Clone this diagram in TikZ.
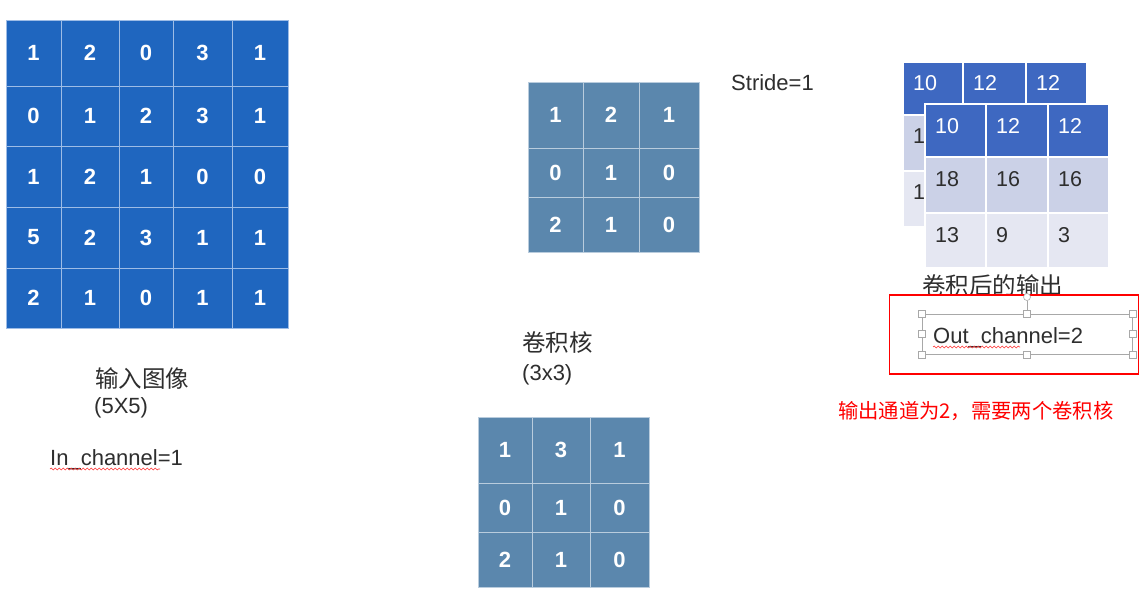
\documentclass[tikz,border=0pt]{standalone}
\usepackage{fontspec}
\setmainfont{Liberation Sans}
\newfontfamily\cjk{Noto Sans CJK SC}
\usetikzlibrary{decorations.pathmorphing}
\definecolor{inblue}{HTML}{1F66BF}
\definecolor{inline}{HTML}{9DBCE6}
\definecolor{kblue}{HTML}{5B87AD}
\definecolor{kline}{HTML}{B9CCDD}
\definecolor{hblue}{HTML}{3E68C1}
\definecolor{rowa}{HTML}{CBD1E7}
\definecolor{rowb}{HTML}{E5E7F2}
\definecolor{txtgray}{HTML}{2E2E2E}
\definecolor{hgray}{HTML}{A8A8A8}
\begin{document}
\begin{tikzpicture}[x=1pt,y=-1pt,
  incell/.style={fill=inblue, draw=inline, line width=0.9pt, inner sep=0pt, text=white, font=\fontsize{22}{22}\selectfont\bfseries},
  kcell/.style={fill=kblue, draw=kline, line width=0.9pt, inner sep=0pt, text=white, font=\fontsize{22}{22}\selectfont\bfseries},
  ocell/.style={draw=white, line width=1.5pt, inner sep=0pt},
  otext/.style={anchor=west, inner sep=0pt, font=\fontsize{21.5}{21.5}\selectfont},
  lbl/.style={inner sep=0pt, anchor=base west, font=\fontsize{22}{22}\selectfont, text=txtgray},
  cjklbl/.style={inner sep=0pt, anchor=base west, font=\cjk\fontsize{23.5}{23.5}\selectfont, text=txtgray},
  wavy/.style={draw=red!80, line width=0.6pt, decorate, decoration={snake, amplitude=0.9pt, segment length=4pt}},
  handle/.style={draw=hgray, fill=white, line width=0.6pt, minimum size=7pt, inner sep=0pt, rectangle},
]
\fill[white] (0,0) rectangle (1147,607);
\useasboundingbox (0,0) rectangle (1147,607);

% ---------- input 5x5 ----------
\foreach \ya/\yb/\i/\a/\b/\c/\d/\e in {20/86/1/1/2/0/3/1, 86/146/2/0/1/2/3/1, 146/207/3/1/2/1/0/0, 207/268/4/5/2/3/1/1, 268/328/5/2/1/0/1/1}{
  \foreach \xa/\xb/\j/\v in {6/61/1/\a, 61/119/2/\b, 119/173/3/\c, 173/232/4/\d, 232/288/5/\e}{
    \node[incell, minimum width={(\xb-\xa)*1pt}, minimum height={(\yb-\ya)*1pt}] (in-\i-\j) at ({(\xa+\xb)/2},{(\ya+\yb)/2}) {\v};
  }
}

% ---------- kernel 1 ----------
\foreach \ya/\yb/\i/\a/\b/\c in {82/148/1/1/2/1, 148/197/2/0/1/0, 197/252/3/2/1/0}{
  \foreach \xa/\xb/\j/\v in {528/583/1/\a, 583/639/2/\b, 639/699/3/\c}{
    \node[kcell, minimum width={(\xb-\xa)*1pt}, minimum height={(\yb-\ya)*1pt}] (ka-\i-\j) at ({(\xa+\xb)/2},{(\ya+\yb)/2}) {\v};
  }
}

% ---------- kernel 2 ----------
\foreach \ya/\yb/\i/\a/\b/\c in {417/483/1/1/3/1, 483/532/2/0/1/0, 532/587/3/2/1/0}{
  \foreach \xa/\xb/\j/\v in {478/532/1/\a, 532/590/2/\b, 590/649/3/\c}{
    \node[kcell, minimum width={(\xb-\xa)*1pt}, minimum height={(\yb-\ya)*1pt}] (kb-\i-\j) at ({(\xa+\xb)/2},{(\ya+\yb)/2}) {\v};
  }
}

% ---------- output, back ----------
\foreach \ya/\yb/\i/\fc/\tc/\a/\b/\c in {62/115/1/hblue/white/10/12/12, 115/171/2/rowa/txtgray/18/16/16, 171/227/3/rowb/txtgray/13/9/3}{
  \foreach \xa/\xb/\j/\v in {903/963/1/\a, 963/1026/2/\b, 1026/1087/3/\c}{
    \node[ocell, fill=\fc, minimum width={(\xb-\xa)*1pt}, minimum height={(\yb-\ya)*1pt}] (ob-\i-\j) at ({(\xa+\xb)/2},{(\ya+\yb)/2}) {};
    \node[otext, text=\tc] (obt-\i-\j) at ({\xa+10},{\ya+21}) {\v};
  }
}

% ---------- output, front ----------
\foreach \ya/\yb/\i/\fc/\tc/\a/\b/\c in {104/157/1/hblue/white/10/12/12, 157/213/2/rowa/txtgray/18/16/16, 213/268/3/rowb/txtgray/13/9/3}{
  \foreach \xa/\xb/\j/\v in {925/986/1/\a, 986/1048/2/\b, 1048/1109/3/\c}{
    \node[ocell, fill=\fc, minimum width={(\xb-\xa)*1pt}, minimum height={(\yb-\ya)*1pt}] (of-\i-\j) at ({(\xa+\xb)/2},{(\ya+\yb)/2}) {};
    \node[otext, text=\tc] (oft-\i-\j) at ({\xa+10},{\ya+22}) {\v};
  }
}

% ---------- labels ----------
\node[lbl] (stride) at (731,91) {Stride=1};
\node[cjklbl] (inlbl) at (95,387) {输入图像};
\node[lbl] (insize) at (94,413) {(5X5)};
\node[lbl] (inch) at (50,465) {In\_channel=1};
\coordinate (u1a) at (50,469);
\coordinate (u1b) at (160,469);
\draw[wavy] (u1a) -- (u1b);

\node[cjklbl] (klbl) at (522,351) {卷积核};
\node[lbl] (ksize) at (522,380) {(3x3)};

\node[cjklbl] (outlbl) at (922,294) {卷积后的输出};

% red box
\node[draw=red, line width=1.6pt, minimum width=249pt, minimum height=79pt, inner sep=0pt] (redbox) at (1014,334.5) {};

% selection frame with handles
\node[draw=hgray, line width=0.7pt, minimum width=210pt, minimum height=40pt, inner sep=0pt] (sel) at (1027,334) {};
\node[handle] (hNW) at (sel.north west) {};
\node[handle] (hN) at (sel.north) {};
\node[handle] (hNE) at (sel.north east) {};
\node[handle] (hW) at (sel.west) {};
\node[handle] (hE) at (sel.east) {};
\node[handle] (hSW) at (sel.south west) {};
\node[handle] (hS) at (sel.south) {};
\node[handle] (hSE) at (sel.south east) {};
\node[draw=hgray, fill=white, line width=0.6pt, circle, minimum size=7pt, inner sep=0pt] (hrot) at (1027,297) {};
\draw[hgray, line width=0.6pt] (hrot) -- (hN);

\node[lbl] (outch) at (933,343) {Out\_channel=2};
\coordinate (u2a) at (933,347);
\coordinate (u2b) at (1020,347);
\draw[wavy] (u2a) -- (u2b);

\node[inner sep=0pt, anchor=base west, font=\cjk\fontsize{20.3}{20.3}\selectfont, text=red] (note) at (838,418) {输出通道为2，需要两个卷积核};
\end{tikzpicture}
\end{document}
